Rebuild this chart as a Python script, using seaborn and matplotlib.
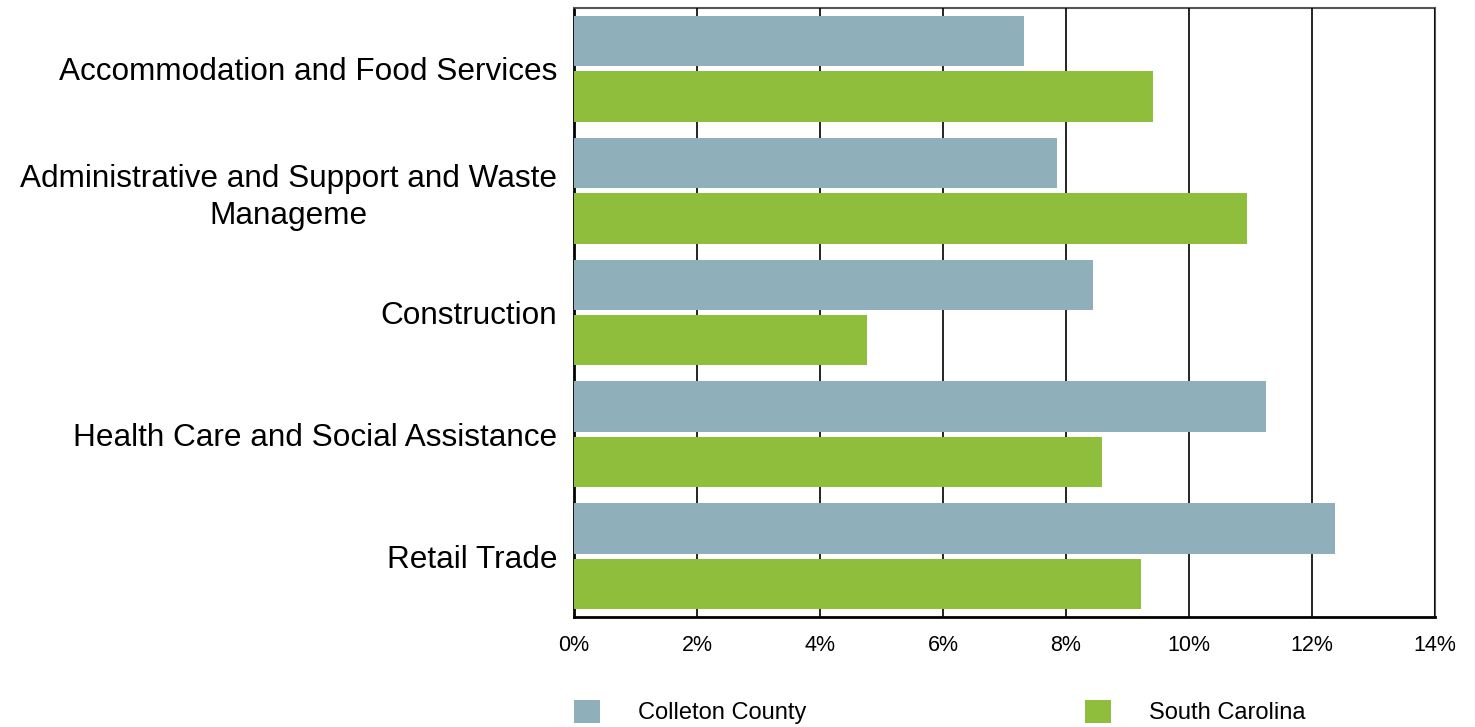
import pandas as pd
import matplotlib.pyplot as plt
import seaborn as sns
from matplotlib.patches import Patch
from matplotlib.ticker import PercentFormatter

# Data
categories = [
    "Accommodation and Food Services",
    "Administrative and Support and Waste\nManageme",
    "Construction",
    "Health Care and Social Assistance",
    "Retail Trade",
]
colleton = [7.32, 7.86, 8.44, 11.25, 12.37]
south_carolina = [9.41, 10.94, 4.76, 8.59, 9.22]
series = ["Colleton County", "South Carolina"]
xticks = [0, 2, 4, 6, 8, 10, 12, 14]

colors = {"Colleton County": "#8FAFBA", "South Carolina": "#8FBD3C"}

df = pd.DataFrame({
    "Industry": categories * 2,
    "Share": colleton + south_carolina,
    "Area": [series[0]] * len(categories) + [series[1]] * len(categories),
})

sns.set_style("white")
plt.rcParams['font.family'] = ['Liberation Sans', 'DejaVu Sans']
plt.rcParams['text.color'] = 'black'
plt.rcParams['xtick.color'] = 'black'
plt.rcParams['ytick.color'] = 'black'

fig = plt.figure(figsize=(14.75, 7.27), dpi=100)
ax = fig.add_axes([0.3892, 0.1513, 0.5837, 0.8377])

sns.barplot(
    data=df, y="Industry", x="Share", hue="Area",
    order=categories, hue_order=series, palette=colors,
    orient="h", width=0.91, gap=0.09, saturation=1,
    linewidth=0, ax=ax, legend=False,
)

ax.set_xlim(0, 14)
ax.set_ylim(4.5, -0.5)
ax.set_xticks(xticks)
ax.xaxis.set_major_formatter(PercentFormatter(decimals=0))
ax.grid(True, axis="x", color="black", linewidth=1.2)
ax.set_axisbelow(False)
for b in ax.patches:
    b.set_zorder(3)
ax.set_xlabel("")
ax.set_ylabel("")

for side in ["left", "bottom"]:
    ax.spines[side].set_color("black")
    ax.spines[side].set_linewidth(2)
for side in ["top", "right"]:
    ax.spines[side].set_color("#555555")
    ax.spines[side].set_linewidth(1.5)

ax.tick_params(axis="y", length=0, pad=12, labelsize=22.7, labelcolor="black")
ax.tick_params(axis="x", length=0, pad=13, labelsize=15.5, labelcolor="black")
for lbl in ax.get_yticklabels():
    lbl.set_multialignment("center")
    lbl.set_linespacing(1.3)

handles = [Patch(facecolor=colors[s], edgecolor="none") for s in series]
ax.legend(
    handles, series, loc="upper left", bbox_to_anchor=(0, -0.136),
    ncol=2, frameon=False, fontsize=17, borderaxespad=0, borderpad=0,
    handlelength=1.1, handleheight=1.14, handletextpad=1.6, columnspacing=11.8,
    labelcolor="black",
)

fig.savefig("out.png", dpi=100, facecolor="white")
